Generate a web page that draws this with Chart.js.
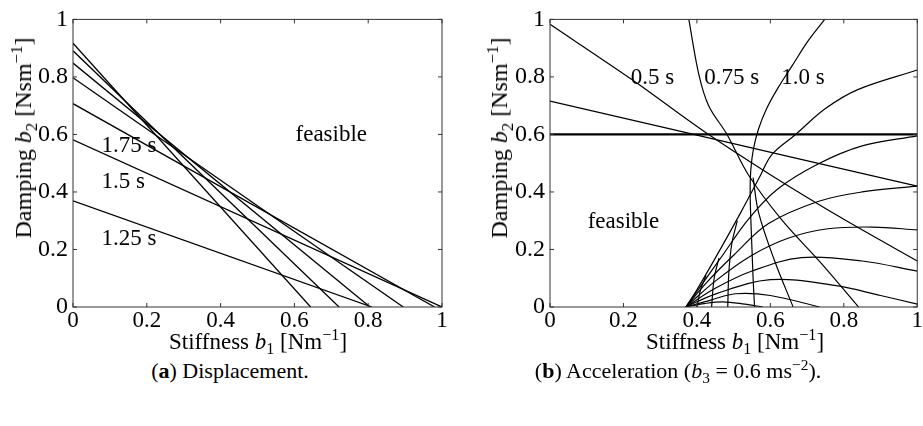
<!DOCTYPE html>
<html>
<head>
<meta charset="utf-8">
<script src="https://cdn.jsdelivr.net/npm/chart.js@4/dist/chart.umd.min.js"></script>
<style>
  body { margin: 0; width: 923px; height: 426px; background: #fff; position: relative; overflow: hidden;
         font-family: "Liberation Serif", "Times New Roman", serif; color: #000; }
  .box { position: absolute; top: 0; height: 340px; }
  .txt { position: absolute; white-space: nowrap; font-size: 23px; line-height: 1; transform: translate(-50%, -50%); }
  .rot { font-size: 24px; transform: translate(-50%, -50%) rotate(-90deg); }
  .cap { font-size: 22px; }
  sub, sup { font-size: 70%; line-height: 0; }
</style>
</head>
<body>
<div class="box" style="left:0;width:460px"><canvas id="disp" width="460" height="340"></canvas></div>
<div class="box" style="left:460px;width:463px"><canvas id="accel" width="463" height="340"></canvas></div>

<div class="txt rot" style="left:23px;top:138px">Damping <i>b</i><sub>2</sub> [Nsm<sup>−1</sup>]</div>
<div class="txt rot" style="left:499px;top:138px">Damping <i>b</i><sub>2</sub> [Nsm<sup>−1</sup>]</div>
<div class="txt" style="left:258px;top:341px">Stiffness <i>b</i><sub>1</sub> [Nm<sup>−1</sup>]</div>
<div class="txt" style="left:735px;top:341px">Stiffness <i>b</i><sub>1</sub> [Nm<sup>−1</sup>]</div>
<div class="txt cap" style="left:230px;top:371px">(<b>a</b>) Displacement.</div>
<div class="txt cap" style="left:678px;top:371px">(<b>b</b>) Acceleration (<i>b</i><sub>3</sub> = 0.6 ms<sup>−2</sup>).</div>

<script>
"use strict";
// tick values, both panels
let tickVals = [0, 0.2, 0.4, 0.6, 0.8, 1];

// (a) displacement: each line runs from (0, start) down to (end, 0)
let dispStarts = [0.917, 0.891, 0.848, 0.797, 0.707, 0.581, 0.369];
let dispEnds = [0.644, 0.721, 0.805, 0.895, 0.98, 1.0, 0.81];
let dispNotes = [
  { text: "feasible", x: 0.70, y: 0.598 },
  { text: "1.75 s", x: 0.152, y: 0.559 },
  { text: "1.5 s", x: 0.136, y: 0.434 },
  { text: "1.25 s", x: 0.152, y: 0.238 },
];

// (b) acceleration: curves as [b1, b2] points
let limit06 = [[0, 0.6], [1, 0.6]];
let line05 = [[0, 0.983], [0.224, 0.79], [0.42, 0.61], [0.6, 0.46], [0.8, 0.305], [1.0, 0.16]];
let lineLow = [[0, 0.716], [0.324, 0.62], [0.66, 0.52], [1.0, 0.42]];
let curve075 = [[0.378, 1.0], [0.405, 0.81], [0.432, 0.70], [0.482, 0.60], [0.54, 0.46], [0.63, 0.305], [0.74, 0.15], [0.84, 0]];
let curve100 = [[0.748, 1.0], [0.70, 0.92], [0.66, 0.84], [0.62, 0.76], [0.59, 0.69], [0.568, 0.62], [0.554, 0.55],
                [0.547, 0.48], [0.545, 0.40], [0.547, 0.30], [0.55, 0.2], [0.553, 0.1], [0.557, 0]];
let curve125 = [[0.553, 0.45], [0.568, 0.328], [0.612, 0.159], [0.662, 0]];
let arc1 = [[0.37, 0], [0.40, 0.06], [0.45, 0.17], [0.52, 0.33], [0.57, 0.45], [0.604, 0.53], [0.667, 0.598], [0.75, 0.69], [0.838, 0.756], [1, 0.824]];
let arc2 = [[0.37, 0], [0.42, 0.09], [0.47, 0.18], [0.54, 0.305], [0.62, 0.41], [0.73, 0.497], [0.85, 0.56], [1.0, 0.595]];
let arc3 = [[0.37, 0], [0.43, 0.09], [0.5, 0.18], [0.595, 0.29], [0.73, 0.367], [0.85, 0.40], [1.0, 0.42]];
let arc4 = [[0.37, 0], [0.45, 0.09], [0.55, 0.18], [0.65, 0.24], [0.757, 0.272], [0.88, 0.278], [1.0, 0.268]];
let arc5 = [[0.37, 0], [0.45, 0.065], [0.55, 0.125], [0.685, 0.172], [0.85, 0.16], [1.0, 0.125]];
let arc6 = [[0.37, 0], [0.45, 0.045], [0.6, 0.095], [0.775, 0.075], [0.9, 0.04], [1.0, 0.01]];
let arc7 = [[0.37, 0], [0.44, 0.025], [0.505, 0.046], [0.6, 0.04], [0.734, 0]];
let arc8 = [[0.37, 0], [0.42, 0.012], [0.47, 0.018], [0.53, 0.01], [0.58, 0]];
let stub1 = [[0.40, 0], [0.41, 0.06], [0.425, 0.11]];
let stub2 = [[0.44, 0], [0.447, 0.1], [0.46, 0.17]];
let stub3 = [[0.484, 0], [0.487, 0.12], [0.495, 0.22], [0.51, 0.3]];
let accelNotes = [
  { text: "0.5 s", x: 0.279, y: 0.795 },
  { text: "0.75 s", x: 0.495, y: 0.795 },
  { text: "1.0 s", x: 0.689, y: 0.795 },
  { text: "feasible", x: 0.20, y: 0.294 },
];

const FONT = '"Liberation Serif", "Times New Roman", serif';

// box round the plot, inward ticks on all four sides, text notes
const framePlugin = {
  id: "frame",
  afterDatasetsDraw(chart, args, opts) {
    const ctx = chart.ctx;
    const a = chart.chartArea;
    const x = chart.scales.x;
    const y = chart.scales.y;
    ctx.save();
    ctx.strokeStyle = "#333";
    ctx.lineWidth = 1;
    ctx.strokeRect(a.left, a.top, a.right - a.left, a.bottom - a.top);
    ctx.beginPath();
    for (let v of tickVals) {
      let px = x.getPixelForValue(v);
      ctx.moveTo(px, a.bottom); ctx.lineTo(px, a.bottom - 4);
      ctx.moveTo(px, a.top); ctx.lineTo(px, a.top + 4);
      let py = y.getPixelForValue(v);
      ctx.moveTo(a.left, py); ctx.lineTo(a.left + 4, py);
      ctx.moveTo(a.right, py); ctx.lineTo(a.right - 4, py);
    }
    ctx.stroke();
    ctx.fillStyle = "#000";
    ctx.font = "23px " + FONT;
    ctx.textAlign = "center";
    ctx.textBaseline = "middle";
    for (let n of opts.notes) {
      ctx.fillText(n.text, x.getPixelForValue(n.x), y.getPixelForValue(n.y));
    }
    ctx.restore();
  },
};

function toPoints(pairs) {
  return pairs.map(p => ({ x: p[0], y: p[1] }));
}

function lineSet(pairs, width, tension) {
  return {
    data: toPoints(pairs),
    showLine: true,
    borderColor: "#000",
    borderWidth: width,
    pointRadius: 0,
    tension: tension,
  };
}

function makeOptions(yWidth, rightPad, notes) {
  return {
    responsive: false,
    animation: false,
    layout: { padding: { top: 11, right: rightPad, left: 0, bottom: 0 } },
    plugins: { legend: { display: false }, tooltip: { enabled: false }, frame: { notes: notes } },
    scales: {
      x: {
        type: "linear", min: 0, max: 1,
        afterFit: s => { s.height = 33; },
        afterBuildTicks: s => { s.ticks = tickVals.map(v => ({ value: v })); },
        grid: { display: false, drawTicks: false },
        border: { display: false },
        ticks: { padding: 0, color: "#000", font: { family: FONT, size: 23 }, maxRotation: 0,
                 callback: v => String(Math.round(v * 10) / 10) },
      },
      y: {
        type: "linear", min: 0, max: 1,
        afterFit: s => { s.width = yWidth; },
        afterBuildTicks: s => { s.ticks = tickVals.map(v => ({ value: v })); },
        grid: { display: false, drawTicks: false },
        border: { display: false },
        ticks: { padding: 5, color: "#000", font: { family: FONT, size: 24 },
                 callback: v => String(Math.round(v * 10) / 10) },
      },
    },
  };
}

// (a) displacement
let dispSets = [];
for (let i = 0; i < dispStarts.length; i++) {
  dispSets.push(lineSet([[0, dispStarts[i]], [dispEnds[i], 0]], 1.3, 0));
}
new Chart(document.getElementById("disp"), {
  type: "scatter",
  data: { datasets: dispSets },
  options: makeOptions(73, 18, dispNotes),
  plugins: [framePlugin],
});

// (b) acceleration
let accelSets = [lineSet(limit06, 2.2, 0), lineSet(line05, 1.2, 0.3), lineSet(lineLow, 1.2, 0)];
let curves = [curve075, curve100, curve125, arc1, arc2, arc3, arc4, arc5, arc6, arc7, arc8, stub1, stub2, stub3];
for (let c of curves) {
  accelSets.push(lineSet(c, 1.2, 0.35));
}
new Chart(document.getElementById("accel"), {
  type: "scatter",
  data: { datasets: accelSets },
  options: makeOptions(90, 3, accelNotes),
  plugins: [framePlugin],
});
</script>
</body>
</html>
